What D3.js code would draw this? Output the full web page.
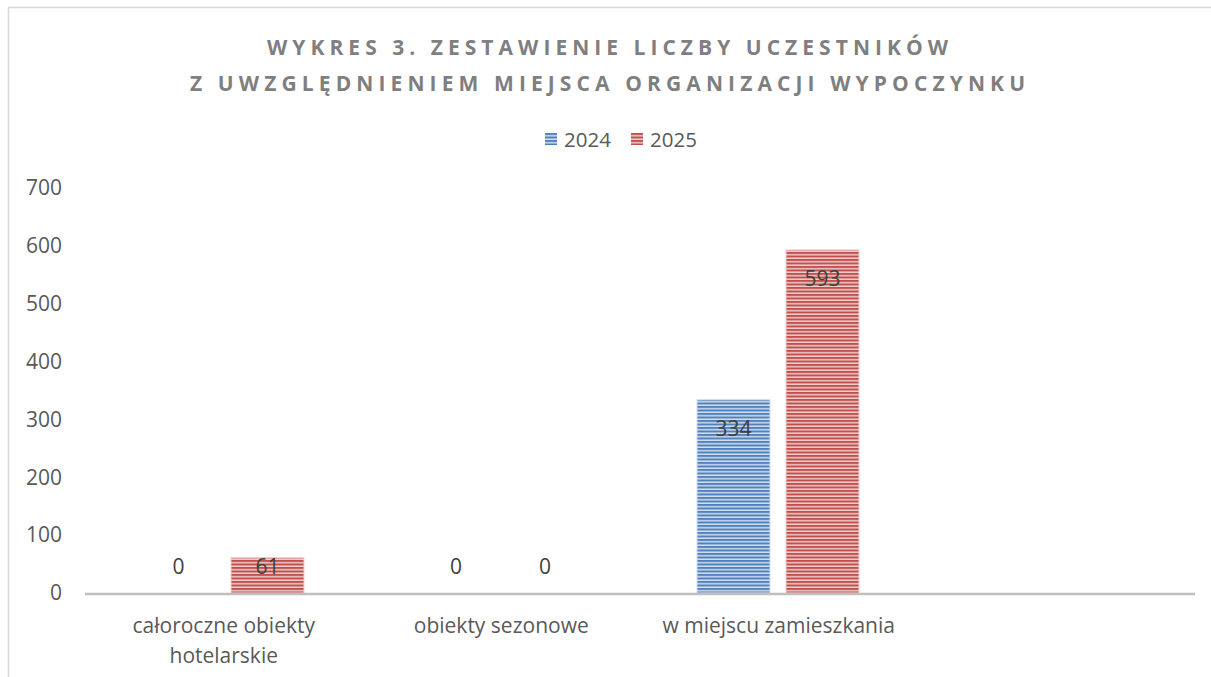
<!DOCTYPE html>
<html><head><meta charset="utf-8">
<script src="https://cdn.jsdelivr.net/npm/d3@7"></script>
<style>body{margin:0;background:#fff}svg{display:block}text{font-family:"Open Sans",sans-serif}</style>
</head><body>
<script>
const categories = [["całoroczne obiekty","hotelarskie"],["obiekty sezonowe"],["w miejscu zamieszkania"],[""]];
const seriesNames = ["2024","2025"];
const values2024 = [0, 0, 334, null];
const values2025 = [61, 0, 593, null];
const yTicks = [0,100,200,300,400,500,600,700];
const titleLines = ["WYKRES 3. ZESTAWIENIE LICZBY UCZESTNIKÓW","Z UWZGLĘDNIENIEM MIEJSCA ORGANIZACJI WYPOCZYNKU"];

const W=1211,H=677;
const svg=d3.select("body").append("svg").attr("width",W).attr("height",H);
svg.append("rect").attr("x",8.5).attr("y",7.5).attr("width",W+10).attr("height",H+10).attr("fill","#fff").attr("stroke","#d9d9d9").attr("stroke-width",1.5);

const defs=svg.append("defs");
const colors={"2024":["#4f81bd","#d3dff0"],"2025":["#c0504d","#f0cfce"]};
seriesNames.forEach(s=>{
  const p=defs.append("pattern").attr("id","p"+s).attr("patternUnits","userSpaceOnUse").attr("width",8).attr("height",3.5);
  p.append("rect").attr("width",8).attr("height",3.5).attr("fill",colors[s][1]);
  p.append("rect").attr("y",0).attr("width",8).attr("height",2).attr("fill",colors[s][0]);
});

// title
const tw=[681,835];
titleLines.forEach((t,i)=>{
  svg.append("text").attr("x",W/2-tw[i]/2+2).attr("y",55+i*36).attr("text-anchor","start")
    .attr("textLength",tw[i]).attr("lengthAdjust","spacing")
    .attr("font-size",21).attr("font-weight","bold").attr("fill","#7f7f7f").text(t);
});

// legend
const legX=[545,631];
seriesNames.forEach((s,i)=>{
  svg.append("rect").attr("x",legX[i]).attr("y",133).attr("width",12).attr("height",12).attr("fill","url(#p"+s+")");
  svg.append("text").attr("x",legX[i]+19).attr("y",146.5).attr("font-size",20.5).attr("fill","#595959").text(s);
});

const y=d3.scaleLinear().domain([0,700]).range([593,188]);
const x=d3.scaleBand().domain(categories.map((c,i)=>i)).range([85,1195]).padding(0);
const xs=d3.scaleBand().domain(seriesNames).range([57,219]).paddingInner(0.18).paddingOuter(0);

// y axis labels
const ya=svg.append("g").attr("transform","translate(62,0)").call(d3.axisLeft(y).tickValues(yTicks).tickSize(0).tickPadding(0));
ya.select(".domain").remove();
ya.selectAll("text").attr("font-size",21).attr("fill","#595959").attr("font-family","'Open Sans',sans-serif");

// bars
const data=[];
categories.forEach((c,i)=>{
  [values2024,values2025].forEach((arr,j)=>{ if(arr[i]!=null) data.push({cat:i,s:seriesNames[j],v:arr[i]}); });
});
svg.selectAll(".bar").data(data.filter(d=>d.v>0)).enter().append("rect")
  .attr("x",d=>x(d.cat)+xs(d.s)).attr("y",d=>y(d.v)).attr("width",xs.bandwidth()).attr("height",d=>593-y(d.v))
  .attr("fill",d=>"url(#p"+d.s+")").attr("stroke",d=>colors[d.s][1]).attr("stroke-width",1);

// x axis line
svg.append("line").attr("x1",85).attr("x2",1195).attr("y1",594).attr("y2",594).attr("stroke","#bfbfbf").attr("stroke-width",2.5);

// data labels
svg.selectAll(".lbl").data(data).enter().append("text")
  .attr("x",d=>x(d.cat)+xs(d.s)+xs.bandwidth()/2)
  .attr("y",d=>Math.min(y(d.v)+29,567)).attr("dy","0.35em").attr("text-anchor","middle")
  .attr("font-size",21).attr("fill","#404040").text(d=>d.v);

// category labels
categories.forEach((c,i)=>{
  const t=svg.append("text").attr("x",x(i)+x.bandwidth()/2).attr("y",633).attr("text-anchor","middle").attr("font-size",21).attr("fill","#595959");
  c.forEach((line,k)=>t.append("tspan").attr("x",x(i)+x.bandwidth()/2).attr("dy",k?30:0).text(line));
});
</script>
</body></html>
